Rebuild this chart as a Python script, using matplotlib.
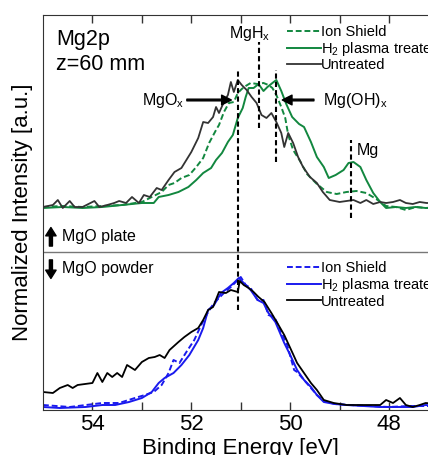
import matplotlib
matplotlib.use("Agg")
import matplotlib.pyplot as plt
from matplotlib.lines import Line2D

plt.rcParams['font.family'] = ['Liberation Sans', 'DejaVu Sans']
plt.rcParams['mathtext.default'] = 'regular'

# ---- MgO plate (upper, offset) ----
plate_untreated_e = [55.0, 54.8, 54.7, 54.6, 54.46, 54.36, 54.2, 54.08, 53.96, 53.86, 53.7, 53.56, 53.46,
                     53.32, 53.2, 53.06, 52.96, 52.84, 52.7, 52.6, 52.46, 52.34, 52.2, 52.1, 52.0, 51.86,
                     51.76, 51.66, 51.56, 51.5, 51.44, 51.34, 51.26, 51.2, 51.14, 51.06, 50.98, 50.88,
                     50.78, 50.68, 50.58, 50.48, 50.38, 50.28, 50.18, 50.12, 50.04, 49.94, 49.84, 49.74,
                     49.6, 49.46, 49.34, 49.2, 49.0, 48.86, 48.72, 48.58, 48.46, 48.32, 48.18, 48.06,
                     47.92, 47.78, 47.66, 47.52, 47.38, 47.24, 47.0]
plate_untreated_i = [2.03, 2.05, 2.10, 2.02, 2.09, 2.03, 2.03, 2.06, 2.09, 2.03, 2.05, 2.07, 2.09,
                     2.07, 2.13, 2.07, 2.15, 2.13, 2.22, 2.20, 2.30, 2.38, 2.42, 2.50, 2.58, 2.72,
                     2.88, 2.87, 2.93, 3.03, 2.97, 3.08, 3.15, 3.28, 3.18, 3.30, 3.25, 3.20,
                     3.13, 3.07, 2.95, 2.92, 2.97, 2.88, 2.77, 2.63, 2.77, 2.67, 2.53, 2.43,
                     2.33, 2.27, 2.18, 2.10, 2.08, 2.09, 2.10, 2.07, 2.10, 2.06, 2.08, 2.07,
                     2.08, 2.10, 2.07, 2.06, 2.08, 2.07, 2.07]

plate_shield_e = [55.0, 54.6, 54.2, 53.8, 53.4, 53.0, 52.8, 52.6, 52.46, 52.34, 52.2, 52.04, 51.9,
                  51.76, 51.64, 51.5, 51.44, 51.34, 51.24, 51.14, 51.06, 50.98, 50.9, 50.8, 50.66,
                  50.54, 50.44, 50.36, 50.28, 50.18, 50.1, 50.04, 49.94, 49.8, 49.66, 49.46, 49.26,
                  49.06, 48.86, 48.66, 48.46, 48.26, 48.06, 47.86, 47.66, 47.46, 47.26, 47.0]
plate_shield_i = [2.03, 2.04, 2.03, 2.04, 2.05, 2.08, 2.13, 2.18, 2.25, 2.27, 2.32, 2.35, 2.43,
                  2.52, 2.67, 2.80, 2.85, 2.98, 3.07, 3.08, 3.17, 3.21, 3.24, 3.27, 3.26,
                  3.27, 3.25, 3.22, 3.15, 3.03, 2.92, 2.75, 2.60, 2.49, 2.36, 2.26, 2.18,
                  2.16, 2.18, 2.19, 2.17, 2.11, 2.04, 2.03, 2.00, 2.03, 2.02, 2.03]

plate_h2_e = [55.0, 54.6, 54.2, 53.8, 53.4, 53.0, 52.76, 52.66, 52.46, 52.26, 52.06, 51.9, 51.76,
              51.6, 51.5, 51.38, 51.26, 51.16, 51.06, 50.96, 50.9, 50.84, 50.74, 50.64, 50.54,
              50.46, 50.36, 50.28, 50.18, 50.08, 49.96, 49.82, 49.72, 49.58, 49.46, 49.32, 49.22,
              49.08, 48.92, 48.82, 48.72, 48.58, 48.46, 48.32, 48.18, 48.06, 47.86, 47.66, 47.46,
              47.26, 47.0]
plate_h2_i = [2.02, 2.03, 2.02, 2.03, 2.05, 2.07, 2.07, 2.13, 2.15, 2.18, 2.23, 2.30, 2.37,
              2.42, 2.50, 2.57, 2.68, 2.75, 2.92, 3.02, 3.13, 3.22, 3.22, 3.26, 3.19,
              3.23, 3.27, 3.30, 3.19, 3.06, 2.93, 2.86, 2.83, 2.68, 2.53, 2.43, 2.32,
              2.35, 2.40, 2.47, 2.48, 2.43, 2.30, 2.17, 2.08, 2.02, 2.03, 2.02, 2.03,
              2.02, 2.02]

# ---- MgO powder (lower) ----
powder_untreated_e = [55.0, 54.8, 54.66, 54.5, 54.4, 54.3, 54.0, 53.9, 53.8, 53.7, 53.6, 53.5, 53.4,
                      53.3, 53.14, 53.0, 52.86, 52.74, 52.64, 52.54, 52.44, 52.26, 52.14, 52.0,
                      51.86, 51.76, 51.66, 51.56, 51.44, 51.3, 51.2, 51.06, 51.02, 50.94, 50.84,
                      50.74, 50.64, 50.52, 50.38, 50.26, 50.12, 49.98, 49.86, 49.72, 49.58, 49.46,
                      49.32, 49.12, 48.86, 48.52, 48.18, 48.06, 47.92, 47.78, 47.66, 47.52, 47.38,
                      47.26, 47.0]
powder_untreated_i = [0.18, 0.17, 0.22, 0.25, 0.22, 0.25, 0.27, 0.37, 0.28, 0.37, 0.33, 0.37, 0.33,
                      0.45, 0.40, 0.48, 0.52, 0.53, 0.55, 0.52, 0.60, 0.68, 0.73, 0.78,
                      0.82, 0.90, 1.00, 1.03, 1.18, 1.17, 1.20, 1.18, 1.29, 1.25, 1.22,
                      1.18, 1.13, 1.08, 0.97, 0.87, 0.75, 0.60, 0.47, 0.37, 0.27, 0.20,
                      0.10, 0.07, 0.05, 0.05, 0.05, 0.10, 0.07, 0.12, 0.05, 0.03, 0.05,
                      0.07, 0.06]

powder_h2_e = [55.0, 54.66, 54.14, 53.8, 53.54, 53.26, 53.0, 52.8, 52.66, 52.54, 52.36, 52.2, 52.04,
               51.86, 51.76, 51.66, 51.54, 51.4, 51.26, 51.14, 51.04, 50.94, 50.8, 50.66, 50.54,
               50.44, 50.3, 50.12, 50.0, 49.86, 49.72, 49.58, 49.46, 49.32, 49.1, 48.86, 48.52,
               48.18, 47.84, 47.52, 47.26, 47.0]
powder_h2_i = [0.03, 0.02, 0.03, 0.05, 0.05, 0.08, 0.12, 0.18, 0.27, 0.32, 0.37, 0.45, 0.55,
               0.70, 0.82, 1.00, 1.05, 1.17, 1.22, 1.27, 1.32, 1.27, 1.20, 1.10, 1.07,
               0.97, 0.88, 0.67, 0.55, 0.40, 0.30, 0.23, 0.15, 0.08, 0.06, 0.05, 0.04,
               0.03, 0.03, 0.03, 0.05, 0.04]

powder_shield_e = [55.0, 54.46, 53.8, 53.46, 53.14, 52.94, 52.76, 52.6, 52.46, 52.36, 52.24, 52.1,
                   51.94, 51.8, 51.66, 51.54, 51.34, 51.2, 51.1, 51.0, 50.9, 50.8, 50.66, 50.54,
                   50.44, 50.32, 50.2, 50.06, 49.92, 49.86, 49.72, 49.58, 49.46, 49.32, 49.1,
                   48.8, 48.4, 48.0, 47.6, 47.26, 47.0]
powder_shield_i = [0.05, 0.03, 0.07, 0.07, 0.12, 0.15, 0.18, 0.25, 0.37, 0.50, 0.47, 0.58,
                   0.70, 0.85, 0.98, 1.07, 1.17, 1.23, 1.28, 1.33, 1.25, 1.22, 1.10, 1.10,
                   0.95, 0.93, 0.80, 0.65, 0.40, 0.38, 0.30, 0.22, 0.15, 0.09, 0.06,
                   0.05, 0.04, 0.03, 0.04, 0.04, 0.04]

legend_labels = ['Ion Shield', 'H$_2$ plasma treated', 'Untreated']

# peak markers: energy, y from, y to
markers = {"MgOx": (51.05, 1.00, 3.40), "MgHx": (50.63, 2.82, 3.68),
           "Mg(OH)x": (50.29, 2.48, 3.40), "Mg": (48.77, 1.92, 2.70)}

green = '#12873f'
blue = '#1a1aee'

fig = plt.figure(figsize=(4.28, 4.55), dpi=100)
ax = fig.add_axes([43 / 428, 45 / 455, 395.5 / 428, 395 / 455])

ax.plot(plate_shield_e, plate_shield_i, '--', color=green, lw=1.4, dashes=(3, 1.5))
ax.plot(plate_h2_e, plate_h2_i, '-', color=green, lw=1.4)
ax.plot(plate_untreated_e, plate_untreated_i, '-', color='#333333', lw=1.3)

l1, = ax.plot(powder_shield_e, powder_shield_i, '--', color=blue, lw=1.4, dashes=(3, 1.5))
l2, = ax.plot(powder_h2_e, powder_h2_i, '-', color=blue, lw=1.4)
l3, = ax.plot(powder_untreated_e, powder_untreated_i, '-', color='black', lw=1.3)

for e, y0, y1 in markers.values():
    ax.plot([e, e], [y0, y1], color='black', lw=1.5, dashes=(2.5, 1.5))

ax.axhline(1.58, color='#777777', lw=1.0)

ax.set_xlim(55, 47)
ax.set_ylim(0, 3.95)
ax.set_xticks([54, 52, 50, 48])
ax.set_xticks([53, 51, 49], minor=True)
ax.set_yticks([])
ax.tick_params(axis='x', which='both', direction='in', top=True, length=6, width=1,
               color='#333333', labelsize=16, pad=3)
for s in ax.spines.values():
    s.set_color('#333333')
ax.spines['right'].set_visible(False)

ax.set_xlabel('Binding Energy [eV]', fontsize=16, labelpad=2)
ax.set_ylabel('Normalized Intensity [a.u.]', fontsize=16, labelpad=7)

ax.text(0.033, 0.965, 'Mg2p\nz=60 mm', transform=ax.transAxes, fontsize=15.5,
        va='top', ha='left', linespacing=1.25)

# peak labels
ax.text(50.81, 3.77, 'MgH$_x$', fontsize=11.5, ha='center', va='center')
ax.text(52.15, 3.10, 'MgO$_x$', fontsize=11.5, ha='right', va='center')
ax.text(49.33, 3.10, 'Mg(OH)$_x$', fontsize=11.5, ha='left', va='center')
ax.text(48.66, 2.60, 'Mg', fontsize=11.5, ha='left', va='center')
arrow = dict(facecolor='black', edgecolor='black', width=1.2, headwidth=7, headlength=7, shrink=0)
ax.annotate('', xy=(51.19, 3.10), xytext=(52.09, 3.10), arrowprops=arrow)
ax.annotate('', xy=(50.16, 3.10), xytext=(49.52, 3.10), arrowprops=arrow)

# panel labels
big_arrow = dict(facecolor='black', edgecolor='black', width=2.2, headwidth=7.5, headlength=6, shrink=0)
ax.annotate('', xy=(0.02, 0.462), xytext=(0.02, 0.415), xycoords='axes fraction', arrowprops=big_arrow)
ax.annotate('', xy=(0.02, 0.333), xytext=(0.02, 0.38), xycoords='axes fraction', arrowprops=big_arrow)
ax.text(0.048, 0.438, 'MgO plate', transform=ax.transAxes, fontsize=11.5, va='center')
ax.text(0.048, 0.357, 'MgO powder', transform=ax.transAxes, fontsize=11.5, va='center')

# legends
g1 = Line2D([], [], color=green, ls='--', lw=1.4, dashes=(3, 1.5))
g2 = Line2D([], [], color=green, lw=1.4)
g3 = Line2D([], [], color='#333333', lw=1.3)
leg_kw = dict(frameon=False, fontsize=10.5, handlelength=2.3, handletextpad=0.0,
              labelspacing=0.05, borderpad=0, borderaxespad=0, loc='upper left')
leg1 = ax.legend([g1, g2, g3], legend_labels, bbox_to_anchor=(0.617, 0.975), **leg_kw)
ax.add_artist(leg1)
ax.legend([l1, l2, l3], legend_labels, bbox_to_anchor=(0.617, 0.377), **leg_kw)

fig.savefig('out.png', dpi=100)
